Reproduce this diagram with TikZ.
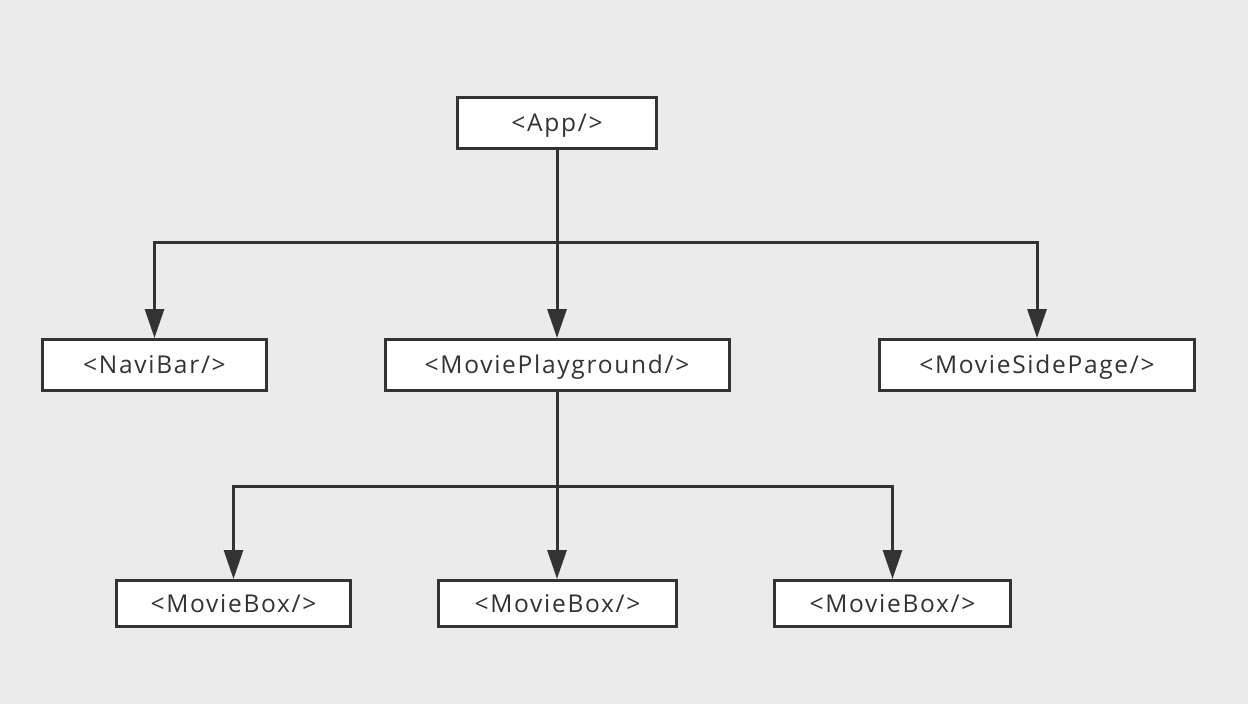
\documentclass[tikz,border=0pt]{standalone}
\usepackage{fontspec}
\setmainfont{Open Sans}
\usetikzlibrary{arrows.meta}
\definecolor{bg}{HTML}{EBEBEB}
\definecolor{ink}{HTML}{333333}
\begin{document}
\begin{tikzpicture}[x=1pt,y=-1pt,
  box/.style={draw=ink,line width=3pt,fill=white,text=ink,inner sep=0pt,
    text height=17.5pt,text depth=0pt,
    font=\fontsize{24.5}{28}\selectfont\addfontfeature{LetterSpace=7}},
  arr/.style={draw=ink,line width=3pt,-{Triangle[width=19pt,length=29pt]}}]
\fill[bg] (0,0) rectangle (1248,704);
\useasboundingbox (0,0) rectangle (1248,704);
\node[box,minimum width=199pt,minimum height=51pt] (app) at (557,123) {<App/>};
\node[box,minimum width=224pt,minimum height=51pt] (navi) at (154.5,365) {<NaviBar/>};
\node[box,minimum width=344pt,minimum height=51pt] (play) at (557,365) {<MoviePlayground/>};
\node[box,minimum width=315pt,minimum height=51pt] (side) at (1037,365) {<MovieSidePage/>};
\node[box,minimum width=234pt,minimum height=46pt] (mb1) at (233.5,603.5) {<MovieBox/>};
\node[box,minimum width=238pt,minimum height=46pt] (mb2) at (557.5,603.5) {<MovieBox/>};
\node[box,minimum width=236pt,minimum height=46pt] (mb3) at (892.5,603.5) {<MovieBox/>};
\coordinate (j1) at (557,242);
\coordinate (j2) at (557,486);
\draw[draw=ink,line width=3pt] (app.south) -- (j1);
\draw[arr] (j1) -| (navi.north);
\draw[arr] (j1) -- (j1 |- play.north);
\draw[arr] (j1) -| (side.north);
\draw[draw=ink,line width=3pt] (play.south) -- (j2);
\draw[arr] (j2) -| (mb1.north);
\draw[arr] (j2) -- (j2 |- mb2.north);
\draw[arr] (j2) -| (mb3.north);
\end{tikzpicture}
\end{document}
